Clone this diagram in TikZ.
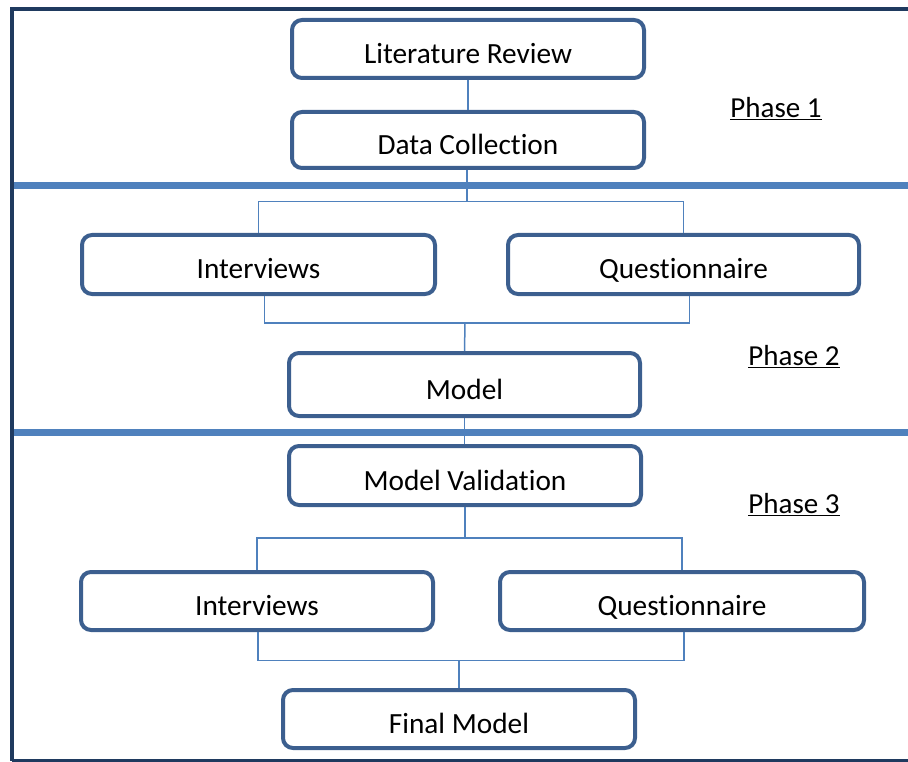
\documentclass[tikz,border=0pt]{standalone}
\usepackage{fontspec}
\setmainfont[Ligatures={NoCommon}]{Carlito}
\usepackage{xcolor}
\usepackage{tikz}

\definecolor{framenavy}{HTML}{1F3A5F}
\definecolor{boxblue}{HTML}{3C5F8F}
\definecolor{linkblue}{HTML}{4F81BD}

\begin{document}
\begin{tikzpicture}[x=1pt, y=-1pt,
	stagebox/.style={draw=boxblue, line width=4pt, rounded corners=10pt, fill=white,
		minimum height=58pt, font=\fontsize{29.3}{35}\selectfont, inner sep=0pt,
		text height=33pt, text depth=4pt},
	link/.style={draw=linkblue, line width=1.5pt},
	phase/.style={font=\fontsize{29}{35}\selectfont}]

\useasboundingbox (0,0) rectangle (908,762);

% phase separators
\draw[linkblue, line width=7pt] (12,185.5)--(908,185.5);
\draw[linkblue, line width=7pt] (12,432.5)--(908,432.5);

% frame
\draw[framenavy, line width=4pt] (908,9.5)--(11.5,9.5)--(11.5,761);
\draw[framenavy, line width=2.5pt] (11.5,760.5)--(908,760.5);

% boxes
\node[stagebox, minimum width=352pt] (lit) at (468,49) {Literature Review};
\node[stagebox, minimum width=352pt, minimum height=56pt] (data) at (468,140) {Data Collection};
\node[stagebox, minimum width=353pt, minimum height=59pt] (int1) at (258.5,264.5) {Interviews};
\node[stagebox, minimum width=351pt, minimum height=59pt] (quest1) at (683.5,264.5) {Questionnaire};
\node[stagebox, minimum width=351pt, minimum height=63pt] (model) at (464.5,384.5) {Model};
\node[stagebox, minimum width=352pt, minimum height=59pt] (val) at (465,475.5) {Model Validation};
\node[stagebox, minimum width=352pt] (int2) at (257,601) {Interviews};
\node[stagebox, minimum width=364pt] (quest2) at (682,601) {Questionnaire};
\node[stagebox, minimum width=352pt] (final) at (459,719) {Final Model};

% connectors
\coordinate (split1) at (467,201.5);
\coordinate (merge1) at (465,323);
\coordinate (split2) at (465,538);
\coordinate (merge2) at (459,660.5);

\draw[link] (lit.south)--(lit.south |- data.north);
\draw[link] (data.south -| split1)--(split1);
\draw[link] (int1.north) |- (split1) -| (quest1.north);
\draw[link] ([xshift=6pt]int1.south) |- (merge1) -| ([xshift=6pt]quest1.south);
\draw[link] (merge1)--(model.north);
\draw[link] (model.south)--(model.south |- val.north);
\draw[link] (val.south)--(split2);
\draw[link] (int2.north) |- (split2) -| (quest2.north);
\draw[link] ([xshift=1pt]int2.south) |- (merge2) -| ([xshift=2pt]quest2.south);
\draw[link] (merge2)--(final.north);

% phase labels
\node[phase] (ph1) at (776,109) {\underline{Phase 1}};
\node[phase] (ph2) at (794,357) {\underline{Phase 2}};
\node[phase] (ph3) at (794,505) {\underline{Phase 3}};

\end{tikzpicture}
\end{document}
